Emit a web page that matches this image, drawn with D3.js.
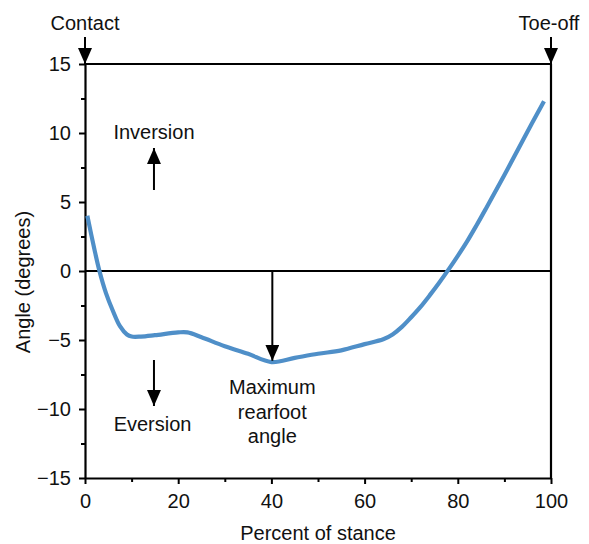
<!DOCTYPE html>
<html>
<head>
<meta charset="utf-8">
<script src="https://cdn.jsdelivr.net/npm/d3@7"></script>
<style>
  body { margin: 0; background: #fff; }
  text { font-family: "Liberation Sans", Arial, sans-serif; fill: #111; }
</style>
</head>
<body>
<div id="chart"></div>
<script>
// rearfoot angle over stance
const stance = [0.5, 2, 3.1, 4.5, 6, 7.5, 9, 10, 12, 15, 20, 22, 25, 30, 35, 40, 45, 50, 55, 60, 64, 66, 68, 70, 72, 74, 76, 78, 80, 82, 84, 86, 90, 94, 98.5];
const angle  = [4.0, 1.6, 0, -1.6, -2.9, -4.0, -4.6, -4.75, -4.75, -4.65, -4.45, -4.45, -4.8, -5.45, -6.0, -6.6, -6.3, -6.0, -5.75, -5.3, -4.95, -4.6, -4.05, -3.35, -2.6, -1.75, -0.85, 0.1, 1.1, 2.15, 3.3, 4.5, 6.95, 9.5, 12.3];

const xTicks = [0, 20, 40, 60, 80, 100];
const xMinor = [10, 30, 50, 70, 90];
const yTicks = [-15, -10, -5, 0, 5, 10, 15];
const yMinor = [-12.5, -7.5, -2.5, 2.5, 7.5, 12.5];

const width = 589, height = 544;
const x = d3.scaleLinear().domain([0, 100]).range([85, 551]);
const y = d3.scaleLinear().domain([-15, 15]).range([478, 64]);

const svg = d3.select("#chart").append("svg")
  .attr("width", width)
  .attr("height", height);

svg.append("defs").append("marker")
  .attr("id", "head")
  .attr("markerUnits", "userSpaceOnUse")
  .attr("viewBox", "0 0 16 14")
  .attr("markerWidth", 16)
  .attr("markerHeight", 14)
  .attr("refX", 16)
  .attr("refY", 7)
  .attr("orient", "auto")
  .append("path")
  .attr("d", "M0,0 L16,7 L0,14 Z")
  .attr("fill", "#000");

// axes
svg.append("g")
  .attr("transform", `translate(0,${y(-15)})`)
  .call(d3.axisBottom(x).tickValues(xTicks).tickSize(6).tickSizeOuter(0).tickPadding(10));
svg.append("g")
  .attr("transform", `translate(0,${y(-15)})`)
  .call(d3.axisBottom(x).tickValues(xMinor).tickSize(4).tickSizeOuter(0).tickFormat(""))
  .select(".domain").remove();

svg.append("g")
  .attr("transform", `translate(${x(0)},0)`)
  .call(d3.axisLeft(y).tickValues(yTicks).tickSize(6).tickSizeOuter(0).tickPadding(8));
svg.append("g")
  .attr("transform", `translate(${x(0)},0)`)
  .call(d3.axisLeft(y).tickValues(yMinor).tickSize(4).tickSizeOuter(0).tickFormat(""))
  .select(".domain").remove();

svg.selectAll(".domain").attr("stroke", "#000").attr("stroke-width", 2.2);
svg.selectAll(".tick line").attr("stroke", "#000").attr("stroke-width", 2);
svg.selectAll(".tick text").style("font-size", "20px").attr("fill", "#111")
  .style("font-family", '"Liberation Sans", Arial, sans-serif');

// frame top/right and zero line
svg.append("line")
  .attr("x1", x(0)).attr("x2", x(100)).attr("y1", y(15)).attr("y2", y(15))
  .attr("stroke", "#000").attr("stroke-width", 2.2);
svg.append("line")
  .attr("x1", x(100)).attr("x2", x(100)).attr("y1", y(15)).attr("y2", y(-15))
  .attr("stroke", "#000").attr("stroke-width", 2.2);
svg.append("line")
  .attr("x1", x(0)).attr("x2", x(100)).attr("y1", y(0)).attr("y2", y(0))
  .attr("stroke", "#000").attr("stroke-width", 2);

// curve
const line = d3.line()
  .x((d, i) => x(stance[i]))
  .y(d => y(d))
  .curve(d3.curveCatmullRom.alpha(0.5));

svg.append("path")
  .datum(angle)
  .attr("d", line)
  .attr("fill", "none")
  .attr("stroke", "#4f8fc8")
  .attr("stroke-width", 4.2)
  .attr("stroke-linejoin", "round");

// arrows
function arrow(x1, y1, x2, y2) {
  svg.append("line")
    .attr("x1", x1).attr("y1", y1).attr("x2", x2).attr("y2", y2)
    .attr("stroke", "#000").attr("stroke-width", 2)
    .attr("marker-end", "url(#head)");
}
arrow(x(0), 37, x(0), y(15));
arrow(x(100), 37, x(100), y(15));
arrow(x(14.8), 190, x(14.8), 148);
arrow(x(14.8), 360, x(14.8), 406);
arrow(x(40.2), y(0), x(40.2), y(-6.5));

// labels
function label(txt, cx, cy, size) {
  svg.append("text")
    .attr("x", cx).attr("y", cy)
    .attr("text-anchor", "middle")
    .style("font-size", (size || 20) + "px")
    .text(txt);
}
label("Contact", x(0), 30);
label("Toe-off", x(100) - 2, 30);
label("Inversion", x(14.8), 139);
label("Eversion", x(14.5), 431);
label("Maximum", x(40.2), 394);
label("rearfoot", x(40.2), 419);
label("angle", x(40.2), 443);
label("Percent of stance", (x(0) + x(100)) / 2, 540);

svg.append("text")
  .attr("transform", `translate(30,${(y(15) + y(-15)) / 2 + 11}) rotate(-90)`)
  .attr("text-anchor", "middle")
  .style("font-size", "20px")
  .text("Angle (degrees)");
</script>
</body>
</html>
